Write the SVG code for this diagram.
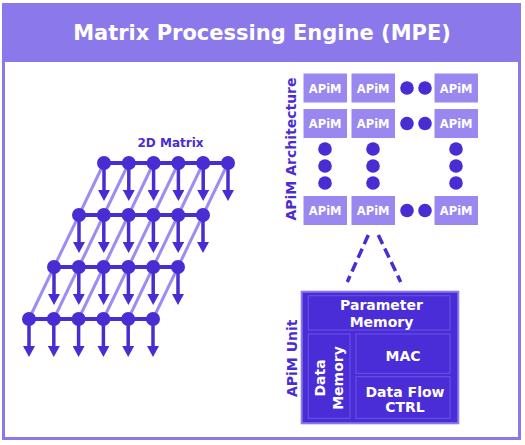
<svg xmlns="http://www.w3.org/2000/svg" width="525" height="445" viewBox="0 0 525 445">
<defs>
<style>
.t{font-family:"DejaVu Sans","Liberation Sans",sans-serif;font-weight:bold}
.w{fill:#ffffff}
.d{fill:#4a2dd2}
.apim rect{fill:#9a87f0}
.apim text{font-size:11.5px;text-anchor:middle}
.dot{fill:#4a2dd2}
.diag{stroke:#9d8df3;stroke-width:3;fill:none}
.hl{stroke:#4a2dd2;stroke-width:4;fill:none}
.arr{stroke:#4a2dd2;stroke-width:3.5;fill:none;marker-end:url(#ah)}
.dash{stroke:#4a2dd2;stroke-width:3.5;stroke-dasharray:10 5;fill:none}
.sub{fill:none;stroke:#6a55e6;stroke-width:1}
.st{font-size:14px;text-anchor:middle}
</style>
<marker id="ah" markerUnits="userSpaceOnUse" markerWidth="12" markerHeight="12" refX="1" refY="6" orient="auto">
<path d="M0,0 L11,6 L0,12 z" fill="#4a2dd2"/>
</marker>
</defs>
<rect x="0" y="0" width="525" height="445" fill="#ffffff"/>
<g id="frame">
<rect x="3.5" y="4.5" width="516" height="434" fill="#ffffff" stroke="#8b79ec" stroke-width="3"/>
<rect x="3.5" y="4.5" width="516" height="57.5" fill="#8b79ec"/>
<text class="t w" x="262" y="39.5" font-size="21" text-anchor="middle">Matrix Processing Engine (MPE)</text>
</g>

<g id="matrix">
<text class="t d" x="170.5" y="146.7" font-size="12" text-anchor="middle">2D Matrix</text>
<g id="matrix-diagonals">
<line class="diag" x1="104" y1="163" x2="29" y2="319"/>
<line class="diag" x1="128.8" y1="163" x2="53.8" y2="319"/>
<line class="diag" x1="153.6" y1="163" x2="78.6" y2="319"/>
<line class="diag" x1="178.4" y1="163" x2="103.4" y2="319"/>
<line class="diag" x1="203.2" y1="163" x2="128.2" y2="319"/>
<line class="diag" x1="228" y1="163" x2="153" y2="319"/>
</g>
<g id="matrix-rows">
<line class="hl" x1="104" y1="163" x2="228" y2="163"/>
<line class="hl" x1="79" y1="215" x2="203" y2="215"/>
<line class="hl" x1="54" y1="267" x2="178" y2="267"/>
<line class="hl" x1="29" y1="319" x2="153" y2="319"/>
</g>
<g id="matrix-arrows">
<line class="arr" x1="104" y1="163" x2="104" y2="191"/>
<line class="arr" x1="128.8" y1="163" x2="128.8" y2="191"/>
<line class="arr" x1="153.6" y1="163" x2="153.6" y2="191"/>
<line class="arr" x1="178.4" y1="163" x2="178.4" y2="191"/>
<line class="arr" x1="203.2" y1="163" x2="203.2" y2="191"/>
<line class="arr" x1="228" y1="163" x2="228" y2="191"/>
<line class="arr" x1="79" y1="215" x2="79" y2="243"/>
<line class="arr" x1="103.8" y1="215" x2="103.8" y2="243"/>
<line class="arr" x1="128.6" y1="215" x2="128.6" y2="243"/>
<line class="arr" x1="153.4" y1="215" x2="153.4" y2="243"/>
<line class="arr" x1="178.2" y1="215" x2="178.2" y2="243"/>
<line class="arr" x1="203" y1="215" x2="203" y2="243"/>
<line class="arr" x1="54" y1="267" x2="54" y2="295"/>
<line class="arr" x1="78.8" y1="267" x2="78.8" y2="295"/>
<line class="arr" x1="103.6" y1="267" x2="103.6" y2="295"/>
<line class="arr" x1="128.4" y1="267" x2="128.4" y2="295"/>
<line class="arr" x1="153.2" y1="267" x2="153.2" y2="295"/>
<line class="arr" x1="178" y1="267" x2="178" y2="295"/>
<line class="arr" x1="29" y1="319" x2="29" y2="347"/>
<line class="arr" x1="53.8" y1="319" x2="53.8" y2="347"/>
<line class="arr" x1="78.6" y1="319" x2="78.6" y2="347"/>
<line class="arr" x1="103.4" y1="319" x2="103.4" y2="347"/>
<line class="arr" x1="128.2" y1="319" x2="128.2" y2="347"/>
<line class="arr" x1="153" y1="319" x2="153" y2="347"/>
</g>
<g id="matrix-nodes" class="dot">
<circle cx="104" cy="163" r="7"/><circle cx="128.8" cy="163" r="7"/><circle cx="153.6" cy="163" r="7"/><circle cx="178.4" cy="163" r="7"/><circle cx="203.2" cy="163" r="7"/><circle cx="228" cy="163" r="7"/>
<circle cx="79" cy="215" r="7"/><circle cx="103.8" cy="215" r="7"/><circle cx="128.6" cy="215" r="7"/><circle cx="153.4" cy="215" r="7"/><circle cx="178.2" cy="215" r="7"/><circle cx="203" cy="215" r="7"/>
<circle cx="54" cy="267" r="7"/><circle cx="78.8" cy="267" r="7"/><circle cx="103.6" cy="267" r="7"/><circle cx="128.4" cy="267" r="7"/><circle cx="153.2" cy="267" r="7"/><circle cx="178" cy="267" r="7"/>
<circle cx="29" cy="319" r="7"/><circle cx="53.8" cy="319" r="7"/><circle cx="78.6" cy="319" r="7"/><circle cx="103.4" cy="319" r="7"/><circle cx="128.2" cy="319" r="7"/><circle cx="153" cy="319" r="7"/>
</g>
</g>

<g id="apim-architecture">
<text class="t d" font-size="14" text-anchor="middle" transform="translate(296,149) rotate(-90)">APiM Architecture</text>
<g id="apim-r1c1" class="apim"><rect x="303.5" y="73.5" width="43.5" height="29"/><text class="t w" x="325.2" y="92.5">APiM</text></g>
<g id="apim-r1c2" class="apim"><rect x="351.5" y="73.5" width="43.5" height="29"/><text class="t w" x="373.2" y="92.5">APiM</text></g>
<g id="apim-r1c3" class="apim"><rect x="434.5" y="73.5" width="43.5" height="29"/><text class="t w" x="456.2" y="92.5">APiM</text></g>
<g id="apim-r2c1" class="apim"><rect x="303.5" y="109" width="43.5" height="29"/><text class="t w" x="325.2" y="128">APiM</text></g>
<g id="apim-r2c2" class="apim"><rect x="351.5" y="109" width="43.5" height="29"/><text class="t w" x="373.2" y="128">APiM</text></g>
<g id="apim-r2c3" class="apim"><rect x="434.5" y="109" width="43.5" height="29"/><text class="t w" x="456.2" y="128">APiM</text></g>
<g id="apim-r3c1" class="apim"><rect x="303.5" y="196" width="43.5" height="29"/><text class="t w" x="325.2" y="215">APiM</text></g>
<g id="apim-r3c2" class="apim"><rect x="351.5" y="196" width="43.5" height="29"/><text class="t w" x="373.2" y="215">APiM</text></g>
<g id="apim-r3c3" class="apim"><rect x="434.5" y="196" width="43.5" height="29"/><text class="t w" x="456.2" y="215">APiM</text></g>
<g id="ellipsis-dots" class="dot">
<circle cx="407" cy="88" r="6.8"/><circle cx="425" cy="88" r="6.8"/>
<circle cx="407" cy="123.5" r="6.8"/><circle cx="425" cy="123.5" r="6.8"/>
<circle cx="407" cy="210.5" r="6.8"/><circle cx="425" cy="210.5" r="6.8"/>
<circle cx="325" cy="149" r="6.8"/><circle cx="325" cy="166" r="6.8"/><circle cx="325" cy="183" r="6.8"/>
<circle cx="373" cy="149" r="6.8"/><circle cx="373" cy="166" r="6.8"/><circle cx="373" cy="183" r="6.8"/>
<circle cx="456" cy="149" r="6.8"/><circle cx="456" cy="166" r="6.8"/><circle cx="456" cy="183" r="6.8"/>
</g>
</g>

<g id="connectors">
<line class="dash" x1="368.3" y1="235" x2="347.3" y2="282"/>
<line class="dash" x1="378.3" y1="235" x2="400.7" y2="282"/>
</g>

<g id="apim-unit">
<text class="t d" font-size="14" text-anchor="middle" transform="translate(296.5,358.3) rotate(-90)">APiM Unit</text>
<rect x="301.7" y="291.7" width="156.6" height="131.6" fill="#4a2dd6" stroke="#8b79ec" stroke-width="2"/>
<g id="parameter-memory"><rect class="sub" x="308.3" y="295.7" width="141.7" height="34.3"/>
<text class="t w st" x="381.5" y="310">Parameter</text><text class="t w st" x="381.5" y="326.5">Memory</text></g>
<g id="data-memory"><rect class="sub" x="308.3" y="334" width="41.7" height="84.3"/>
<text class="t w st" transform="translate(325,378) rotate(-90)">Data</text><text class="t w st" transform="translate(342.5,378) rotate(-90)">Memory</text></g>
<g id="mac"><rect class="sub" x="356" y="334" width="94" height="39.3"/>
<text class="t w st" x="403" y="360.5">MAC</text></g>
<g id="data-flow-ctrl"><rect class="sub" x="356" y="376.7" width="94" height="41.6"/>
<text class="t w st" x="405" y="396.5">Data Flow</text><text class="t w st" x="405" y="412">CTRL</text></g>
</g>
</svg>
